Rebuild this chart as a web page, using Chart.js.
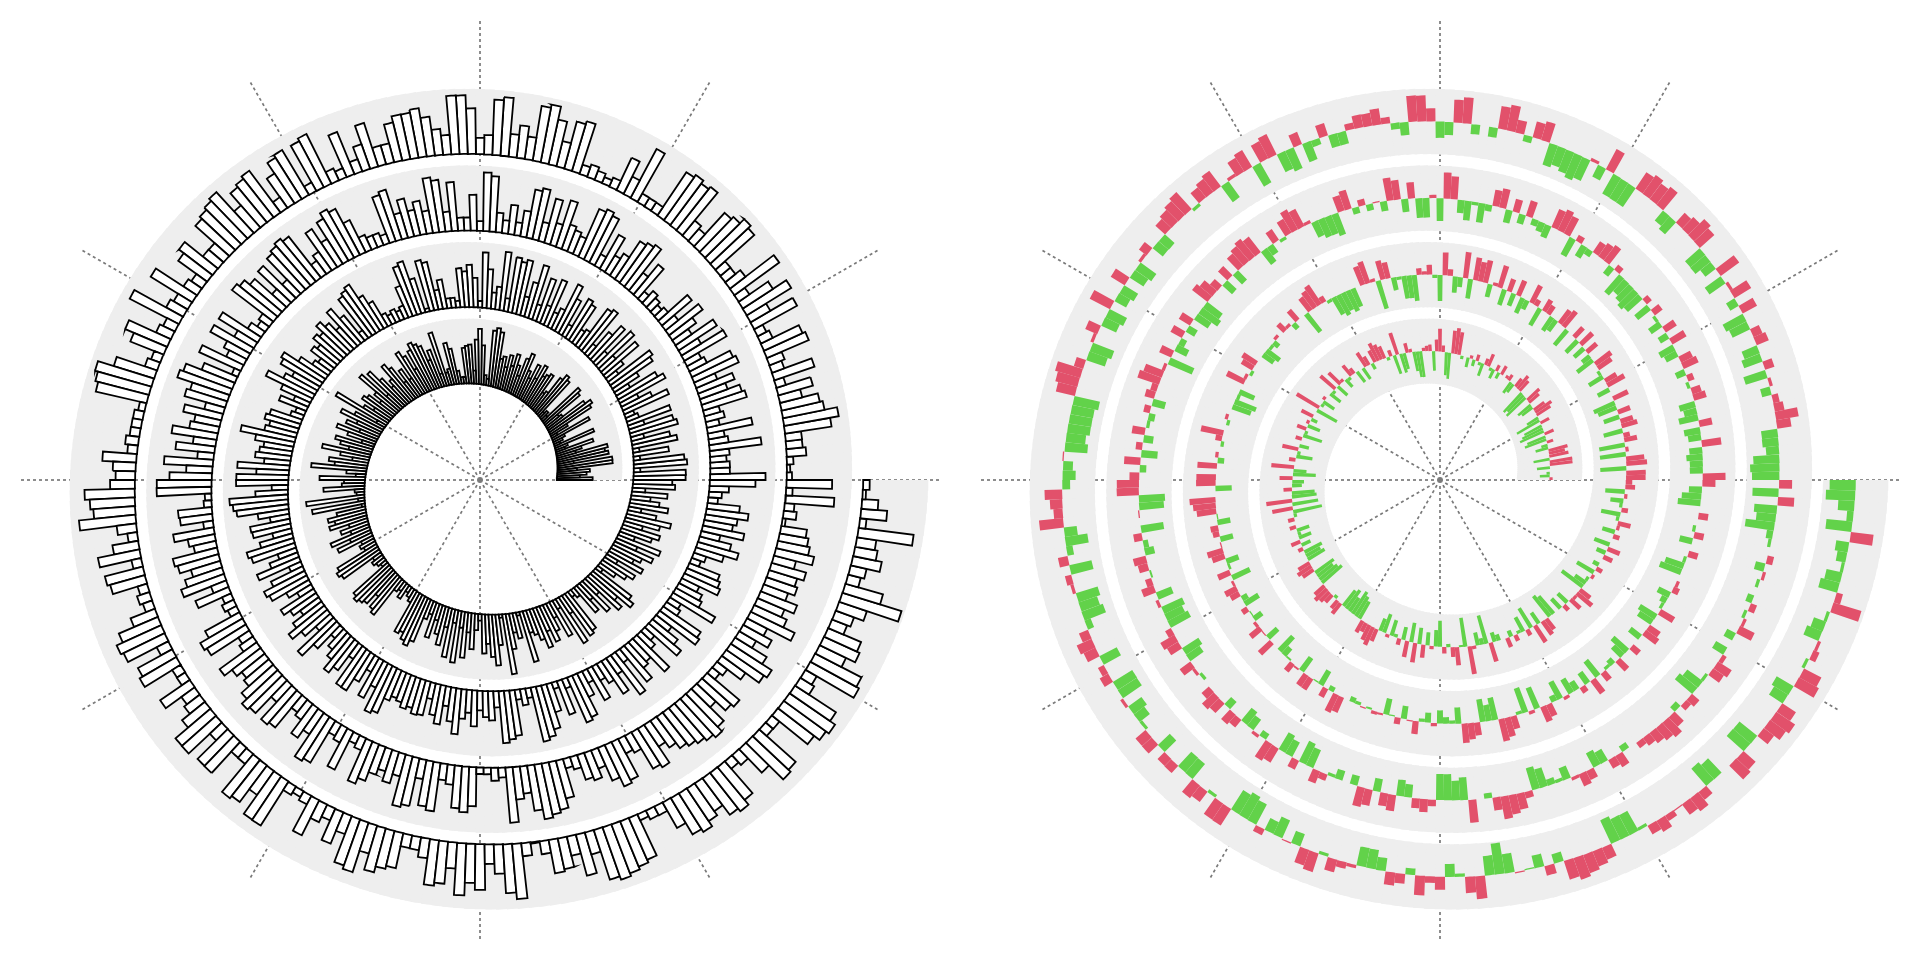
<!DOCTYPE html>
<html>
<head>
<meta charset="utf-8">
<script src="https://cdn.jsdelivr.net/npm/chart.js@4.4.1/dist/chart.umd.min.js"></script>
<style>
  html, body { margin: 0; padding: 0; background: #ffffff; }
  #wrap { position: relative; width: 1920px; height: 960px; overflow: hidden; }
  .box { position: absolute; top: 20px; width: 920px; height: 920px; }
  canvas { display: block; }
</style>
</head>
<body>
<div id="wrap">
  <div class="box" style="left:20px"><canvas id="left" width="920" height="920"></canvas></div>
  <div class="box" style="left:980px"><canvas id="right" width="920" height="920"></canvas></div>
</div>
<script>
// ---- data: bar values (fraction of band height), one array per turn of the spiral ----
const turn1 = [
  0.55,0.35,0.45,0.5,0.3,0.85,0.85,0.25,0.8,0.75, 0.8,0.3,0.4,0.6,0.15,0.2,0.65,0.1,0.15,0.2,
  0.65,0.1,0.3,0.75,0.8,0.7,0.3,0.25,0.7,0.75, 0.1,0.15,0.1,0.7,0.75,0.65,0.35,0.3,0.6,0.55,
  0.5,0.65,0.4,0.6,0.35,0.45,0.7,0.6,0.3,0.45, 0.6,0.4,0.55,0.35,0.5,0.45,0.85,0.9,0.85,0.1,
  0.15,0.6,
  0.85,0.68,0.2,0.6,0.58,0.55,0.1,0.1,0.2,0.55, 0.65,0.25,0.2,0.85,0.2,0.6,0.45,0.7,0.75,0.8,
  0.7,0.4,0.65,0.75,0.3,0.5,0.3,0.6,0.7,0.45, 0.35,0.55,0.75,0.3,0.8,0.45,0.3,0.5,0.55,0.3,
  0.45,0.9,0.15,0.5,0.7,0.4,0.55,0.3,0.65,0.45, 0.2,0.6,0.5,0.35,0.75,0.45,0.25,0.6,0.5,0.85,
  0.3,0.15,0.7,
  0.32,0.35,0.63,0.15,0.12,0.9,0.1,0.82,0.05,0.45, 0.6,0.5,0.6,0.3,0.45,0.3,0.65,0.35,0.58,0.2,
  0.25,0.2,0.7,0.75,0.7,0.15,0.2,0.15,0.1,0.7, 0.75,0.7,0.65,0.45,0.65,0.7,0.2,0.15,0.25,0.1,
  0.15,0.2,0.7,0.65,0.75,0.8,0.7,0.3,0.2,0.55, 0.25,0.45,0.6,0.3,0.75,0.2,0.8,0.25,0.7,0.3,
  0.55,0.25,
  0.1,0.6,0.45,0.65,0.78,0.47,0.05,0.93,0.55,0.3, 0.4,0.05,0.8,0.35,0.4,0.5,0.65,0.4,0.6,0.45,
  0.25,0.6,0.15,0.8,0.3,0.75,0.7,0.1,0.15,0.5, 0.3,0.6,0.3,0.7,0.55,0.8,0.7,0.1,0.3,0.45,
  0.55,0.2,0.6,0.4,0.5,0.65,0.35,0.7,0.25,0.5, 0.6,0.3,0.55,0.7,0.45,0.2,0.6,0.45,0.3,0.55,
  0.2,0.65,0.6
];
const turn2 = [
  0.8,0.8,0.1,0.82,0.78,0.1,0.55,0.1,0.7,0.6, 0.2,0.75,0.7,0.25,0.7,0.2,0.15,0.75,0.5,0.3,
  0.8,0.7,0.25,0.45,0.75,0.8,0.2,0.35,0.7,0.3, 0.75,0.25,0.7,0.5,0.2,0.8,0.75,0.3,0.25,0.65,
  0.7,0.2,0.6,0.8,0.35,0.25,0.75,0.3,0.7,0.25, 0.85,0.55,0.3,0.85,0.8,0.85,0.2,0.9,0.35,0.25,
  0.6,0.85,
  0.1,0.45,0.65,0.55,0.6,0.1,0.15,0.15,0.45,0.3, 0.75,0.8,0.05,0.55,0.85,0.8,0.5,0.2,0.15,0.2,
  0.15,0.2,0.45,0.6,0.85,0.8,0.75,0.15,0.5,0.7, 0.4,0.55,0.65,0.5,0.55,0.4,0.45,0.25,0.3,0.5,
  0.75,0.7,0.45,0.55,0.8,0.5,0.25,0.45,0.15,0.2, 0.5,0.55,0.45,0.5,0.85,0.6,0.45,0.5,0.55,0.4,
  0.8,0.5,0.8,
  0.8,0.25,0.5,0.9,0.85,0.8,0.48,0.3,0.62,0.6, 0.3,0.52,0.75,0.7,0.3,0.46,0.7,0.2,0.54,0.7,
  0.65,0.4,0.25,0.6,0.48,0.35,0.55,0.7,0.52,0.3, 0.75,0.5,0.2,0.35,0.47,0.65,0.53,0.25,0.7,0.7,
  0.48,0.25,0.65,0.42,0.8,0.75,0.5,0.42,0.45,0.52, 0.47,0.55,0.53,0.25,0.48,0.6,0.3,0.52,0.7,0.45,
  0.35,0.55,
  0.3,0.4,0.45,0.25,0.8,0.75,0.7,0.15,0.25,0.15, 0.85,0.8,0.7,0.45,0.1,0.55,0.15,0.75,0.7,0.4,
  0.2,0.55,0.25,0.35,0.6,0.3,0.75,0.2,0.65,0.45, 0.4,0.7,0.3,0.2,0.65,0.5,0.3,0.75,0.7,0.25,
  0.2,0.75,0.45,0.4,0.3,0.6,0.55,0.5,0.15,0.2, 0.45,0.65,0.5,0.3,0.65,0.45,0.5,0.65,0.5,0.15,
  0.2,0.3,0.7
];
const turn3 = [
  0.85,0.3,0.3,0.25,0.3,0.8,0.3,0.25,0.7,0.2, 0.3,0.25,0.7,0.65,0.45,0.6,0.35,0.75,0.7,0.3,
  0.25,0.75,0.35,0.7,0.3,0.45,0.65,0.25,0.6,0.2, 0.15,0.2,0.25,0.15,0.6,0.35,0.8,0.75,0.7,0.4,
  0.3,0.6,0.2,0.8,0.85,0.8,0.3,0.35,0.4,0.75, 0.35,0.7,0.3,0.8,0.75,0.4,0.2,0.45,0.2,0.3,
  0.85,0.9,
  0.15,0.55,0.2,0.2,0.75,0.3,0.8,0.85,0.35,0.52, 0.4,0.6,0.4,0.8,0.75,0.15,0.2,0.2,0.25,0.55,
  0.8,0.85,0.75,0.45,0.7,0.35,0.25,0.8,0.85,0.8, 0.75,0.3,0.7,0.3,0.65,0.75,0.8,0.2,0.15,0.25,
  0.7,0.35,0.7,0.4,0.3,0.7,0.1,0.55,0.8,0.85, 0.6,0.65,0.3,0.6,0.4,0.45,0.7,0.35,0.6,0.25,
  0.75,0.4,0.65,
  0.84,0.84,0.1,0.12,0.52,0.5,0.15,0.63,0.42,0.35, 0.7,0.65,0.47,0.6,0.7,0.25,0.55,0.15,0.2,0.15,
  0.6,0.75,0.7,0.2,0.25,0.7,0.55,0.45,0.5,0.65, 0.75,0.7,0.35,0.7,0.65,0.25,0.3,0.55,0.4,0.8,
  0.75,0.2,0.25,0.65,0.15,0.2,0.7,0.6,0.45,0.35, 0.5,0.35,0.8,0.75,0.3,0.7,0.75,0.25,0.3,0.65,
  0.7,0.6,
  0.1,0.1,0.2,0.15,0.85,0.5,0.42,0.7,0.85,0.8, 0.75,0.6,0.15,0.2,0.4,0.45,0.3,0.55,0.7,0.65,
  0.25,0.3,0.65,0.7,0.4,0.5,0.6,0.65,0.7,0.75, 0.8,0.7,0.4,0.6,0.65,0.15,0.2,0.45,0.7,0.75,
  0.57,0.3,0.5,0.35,0.75,0.55,0.45,0.6,0.4,0.5, 0.45,0.55,0.35,0.6,0.5,0.45,0.4,0.05,0.2,0.15,
  0.75,0.1,0.7
];
const turn4 = [
  0.08,0.05,0.1,0.3,0.25,0.25,0.72,0.85,0.65,0.6, 0.35,0.55,0.15,0.65,0.2,0.25,0.7,0.65,0.2,0.15,
  0.75,0.35,0.8,0.55,0.2,0.85,0.3,0.2,0.2,0.8, 0.85,0.75,0.7,0.25,0.3,0.85,0.8,0.85,0.8,0.15,
  0.15,0.15,0.85,0.3,0.55,0.15,0.1,0.15,0.2,0.15, 0.8,0.75,0.4,0.7,0.9,0.85,0.35,0.5,0.35,0.9,
  0.85,0.3,
  0.25,0.7,0.9,0.9,0.3,0.4,0.6,0.75,0.7,0.7, 0.6,0.3,0.3,0.7,0.4,0.2,0.7,0.15,0.2,0.85,
  0.8,0.15,0.8,0.75,0.55,0.2,0.8,0.75,0.7,0.45, 0.85,0.8,0.75,0.7,0.3,0.3,0.65,0.55,0.2,0.25,
  0.75,0.25,0.3,0.85,0.2,0.25,0.7,0.55,0.15,0.2, 0.65,0.9,0.85,0.8,0.1,0.15,0.15,0.15,0.2,0.15,
  0.52,0.35,0.3,
  0.38,0.77,0.69,0.64,0.87,0.3,0.15,0.4,0.65,0.15, 0.6,0.55,0.15,0.2,0.15,0.4,0.65,0.75,0.7,0.2,
  0.6,0.65,0.15,0.15,0.55,0.25,0.3,0.45,0.7,0.7, 0.25,0.65,0.65,0.2,0.2,0.75,0.7,0.45,0.8,0.8,
  0.15,0.1,0.15,0.6,0.3,0.2,0.52,0.3,0.75,0.8, 0.45,0.7,0.6,0.55,0.2,0.2,0.3,0.7,0.65,0.4,
  0.8,0.6,
  0.7,0.3,0.45,0.75,0.85,0.2,0.02,0.2,0.52,0.48, 0.3,0.65,0.35,0.8,0.85,0.8,0.75,0.7,0.1,0.15,
  0.15,0.45,0.65,0.7,0.6,0.52,0.7,0.75,0.65,0.15, 0.2,0.5,0.8,0.75,0.15,0.15,0.7,0.8,0.85,0.75,
  0.25,0.2,0.85,0.8,0.45,0.6,0.55,0.25,0.3,0.45, 0.95,0.6,0.2,0.25,0.45,0.35,0.3,0.85,0.1,0.4,
  0.25,0.05,0.1
];
const spokeLabels = ['0°','30°','60°','90°','120°','150°','180°','210°','240°','270°','300°','330°'];

// ---- layout / style constants ----
const TURNS = 4;          // spiral turns
const R_MAX = 6;          // radial axis limit (units of one turn pitch)
const R_START = 1;        // radius of the spiral base at angle 0
const PITCH = 1;          // radial growth per turn
const BAND = 0.85;        // band height
const MID = 0.5;          // reference level for the right chart
const GRAY = '#eeeeee', RED = '#e2516b', GREEN = '#62d24a';

const values = [].concat(turn1, turn2, turn3, turn4);

// ---- spiral bar controller built on the polar-area controller ----
class SpiralBarController extends Chart.PolarAreaController {
  updateElements(arcs, start, count, mode) {
    const scale = this._cachedMeta.rScale;
    const ds = this.getDataset();
    const n = ds.data.length;
    const step = TURNS * 2 * Math.PI / n;
    for (let i = start; i < start + count; i++) {
      const v = this.getParsed(i).r;
      const a0 = i * step;
      let a1 = (i + 1) * step;
      const base = R_START + PITCH * ((i + 0.5) * step) / (2 * Math.PI);
      let lo, hi;
      if (ds.kind === 'band') {
        lo = base; hi = base + BAND;
        if (i < n - 1) a1 += step * 0.6;   // overlap to hide seams in the band
      } else if (ds.kind === 'dev') {
        const m = base + BAND * MID, e = base + BAND * v;
        lo = Math.min(m, e); hi = Math.max(m, e);
      } else {
        lo = base; hi = base + BAND * v;
      }
      const innerRadius = scale.getDistanceFromCenterForValue(lo);
      const outerRadius = scale.getDistanceFromCenterForValue(hi);
      this.updateElement(arcs[i], i, {
        x: scale.xCenter,
        y: scale.yCenter,
        startAngle: -a1,
        endAngle: -a0,
        circumference: a1 - a0,
        innerRadius,
        outerRadius,
        options: this.resolveDataElementOptions(i, mode)
      }, mode);
    }
  }
}
SpiralBarController.id = 'spiralBar';
SpiralBarController.defaults = Chart.PolarAreaController.defaults;
SpiralBarController.overrides = Chart.PolarAreaController.overrides;
Chart.register(SpiralBarController);

function options() {
  return {
    responsive: false,
    animation: false,
    events: [],
    layout: { padding: 0 },
    plugins: { legend: { display: false }, tooltip: { enabled: false } },
    scales: {
      r: {
        type: 'radialLinear',
        min: 0,
        max: R_MAX,
        startAngle: 0,
        ticks: { display: false },
        grid: { display: false },
        pointLabels: { display: false },
        angleLines: { display: true, color: '#7a7a7a', lineWidth: 1.7, borderDash: [3, 3] }
      }
    }
  };
}

new Chart(document.getElementById('left'), {
  type: 'spiralBar',
  data: {
    labels: spokeLabels,
    datasets: [
      { kind: 'bar', data: values, backgroundColor: '#ffffff', borderColor: '#000000',
        borderWidth: 1.8, borderJoinStyle: 'miter', order: 0 },
      { kind: 'band', data: values, backgroundColor: GRAY, borderWidth: 0, order: 1 }
    ]
  },
  options: options()
});

new Chart(document.getElementById('right'), {
  type: 'spiralBar',
  data: {
    labels: spokeLabels,
    datasets: [
      { kind: 'dev', data: values, backgroundColor: values.map(v => v >= MID ? RED : GREEN),
        borderWidth: 0, order: 0 },
      { kind: 'band', data: values, backgroundColor: GRAY, borderWidth: 0, order: 1 }
    ]
  },
  options: options()
});
</script>
</body>
</html>
